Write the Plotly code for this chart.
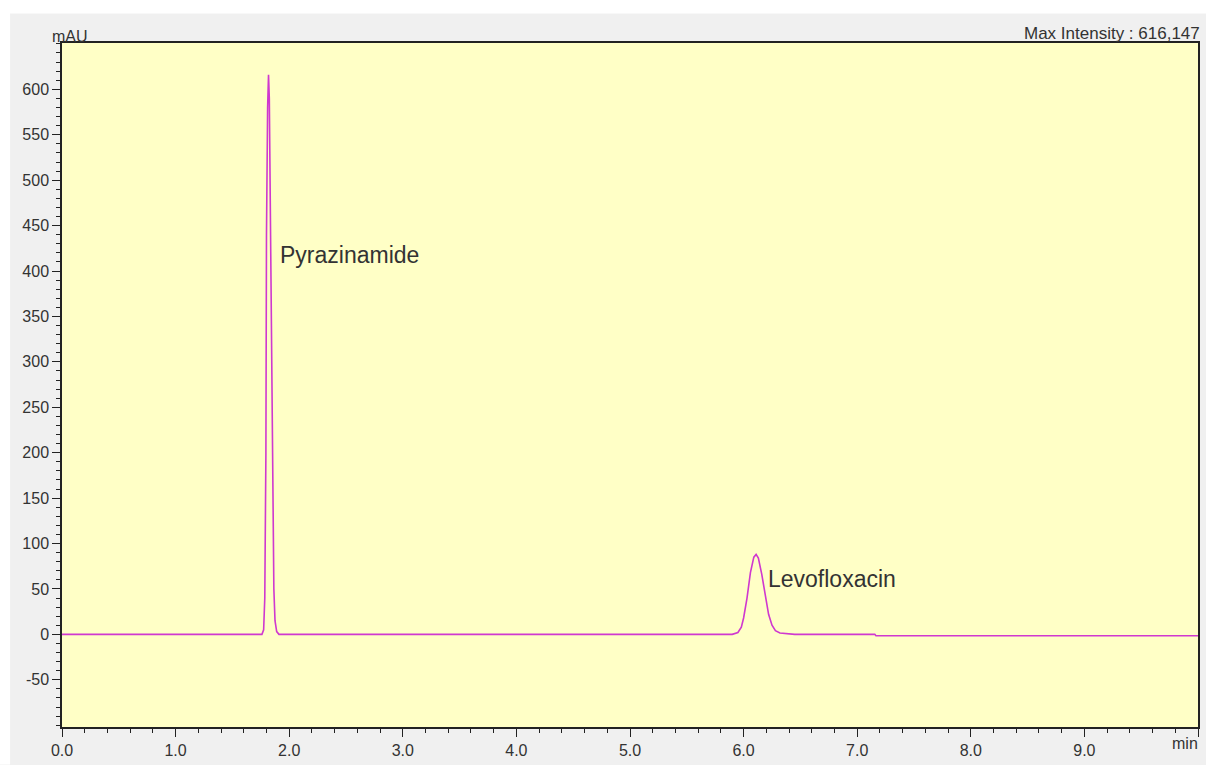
import plotly.graph_objects as go

# Chromatogram trace
time_min = [0.0, 1.76, 1.775, 1.785, 1.795, 1.80, 1.81, 1.818, 1.825, 1.835, 1.845,
            1.855, 1.865, 1.875, 1.89, 1.91, 5.90, 5.95, 5.98, 6.00, 6.03, 6.06, 6.09,
            6.11, 6.13, 6.16, 6.19, 6.22, 6.25, 6.28, 6.32, 6.38, 6.45, 7.155, 7.165, 10.0]
intensity_mau = [0, 0, 5, 40, 200, 440, 580, 616, 590, 450, 280,
                 140, 50, 15, 3, 0, 0, 2, 8, 18, 40, 68, 85,
                 88, 84, 66, 42, 22, 10, 4, 1.5, 0.5, 0, 0, -1.5, -1.5]

peak_names = ["Pyrazinamide", "Levofloxacin"]
peak_label_x = [1.905, 6.2]
peak_label_y = [418, 61]

x_tick_vals = [0, 1, 2, 3, 4, 5, 6, 7, 8, 9]
x_tick_text = ["0.0", "1.0", "2.0", "3.0", "4.0", "5.0", "6.0", "7.0", "8.0", "9.0"]
y_tick_vals = [-50, 0, 50, 100, 150, 200, 250, 300, 350, 400, 450, 500, 550, 600]

W, H = 1206, 765
L, R, T, B = 62, 6, 43, 28
PX0, PX1, PY0, PY1 = L, W - R, T, H - B


def px(xpix):
    return (xpix - PX0) / (PX1 - PX0)


def py(ypix):
    return (PY1 - ypix) / (PY1 - PY0)


FONT = "Arial, Liberation Sans, sans-serif"
TXT = "#333333"

fig = go.Figure()
fig.add_trace(go.Scatter(
    x=time_min, y=intensity_mau, mode="lines",
    line=dict(color="#cf38cf", width=1.6), hoverinfo="skip", showlegend=False,
))

for name, xx, yy in zip(peak_names, peak_label_x, peak_label_y):
    fig.add_annotation(x=xx, y=yy, text=name, showarrow=False, xanchor="left",
                       yanchor="middle", font=dict(family=FONT, size=23, color=TXT))

fig.add_annotation(xref="paper", yref="paper", x=px(50), y=py(36), text="mAU",
                   showarrow=False, xanchor="left", yanchor="middle",
                   font=dict(family=FONT, size=16, color=TXT))
fig.add_annotation(xref="paper", yref="paper", x=px(1204), y=py(33),
                   text="Max Intensity : 616,147", showarrow=False, xanchor="right",
                   yanchor="middle", font=dict(family=FONT, size=17, color=TXT))
fig.add_annotation(xref="paper", yref="paper", x=px(1202), y=py(754), text="min",
                   showarrow=False, xanchor="right", yanchor="middle",
                   font=dict(family=FONT, size=16, color=TXT))

# white strips around the grey panel
fig.add_shape(type="rect", xref="paper", yref="paper", x0=px(-5), x1=px(W + 5), y0=py(13),
              y1=py(-5), fillcolor="white", line=dict(width=0), layer="below")
fig.add_shape(type="rect", xref="paper", yref="paper", x0=px(-5), x1=px(10), y0=py(H + 10),
              y1=py(-5), fillcolor="white", line=dict(width=0), layer="below")

axis_common = dict(showgrid=False, zeroline=False, showline=True, linecolor="#222222",
                   linewidth=1.5, mirror=True, ticks="outside", ticklen=8, tickwidth=1.2,
                   tickcolor="#222222", tickfont=dict(family=FONT, size=16, color=TXT))

fig.update_xaxes(range=[0, 10], tickvals=x_tick_vals + [10], ticktext=x_tick_text + [""],
                 minor=dict(dtick=0.2, ticklen=4, ticks="outside", tickcolor="#222222",
                            tickwidth=1.2),
                 **axis_common)
fig.update_yaxes(range=[-102, 651], tickvals=y_tick_vals,
                 ticktext=[str(v) for v in y_tick_vals],
                 minor=dict(dtick=10, ticklen=4, ticks="outside", tickcolor="#222222",
                            tickwidth=1.2),
                 **axis_common)

fig.update_layout(width=W, height=H, margin=dict(l=L, r=R, t=T, b=B),
                  paper_bgcolor="#f0f0f0", plot_bgcolor="#ffffc6", showlegend=False)

fig.write_html("out.html")
